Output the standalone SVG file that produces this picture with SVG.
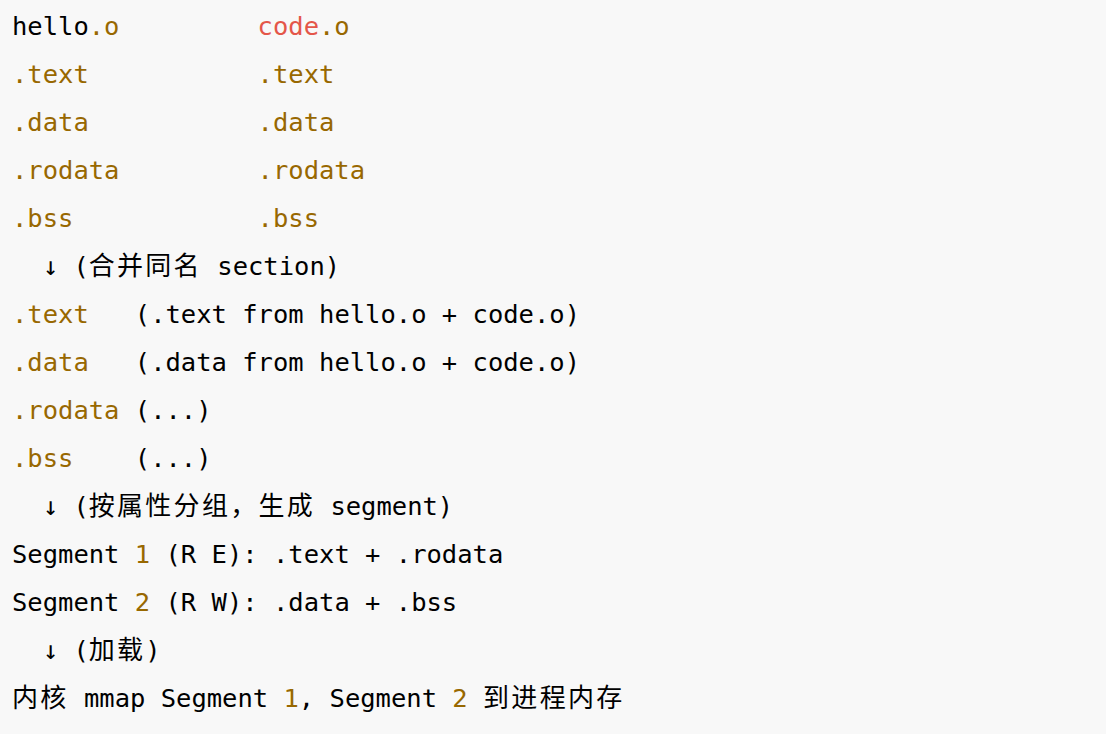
<svg xmlns="http://www.w3.org/2000/svg" width="1106" height="734" viewBox="0 0 1106 734">
<style>
text{font-family:"DejaVu Sans Mono","Liberation Mono",monospace;font-size:25.5px;fill:#000}
.b{fill:#986801}
.r{fill:#e45649}
.c{font-family:"Noto Sans CJK SC","DejaVu Sans",sans-serif;font-size:26px;letter-spacing:2.3px}
</style>
<rect width="1106" height="734" fill="#f8f8f8"/>
<g id="line1"><text x="12" y="35">hello</text><text class="b" x="88.75" y="35">.o</text><text class="r" x="257.6" y="35">code</text><text class="b" x="319" y="35">.o</text></g>
<g id="line2"><text class="b" x="12" y="83">.text</text><text class="b" x="257.6" y="83">.text</text></g>
<g id="line3"><text class="b" x="12" y="131">.data</text><text class="b" x="257.6" y="131">.data</text></g>
<g id="line4"><text class="b" x="12" y="179">.rodata</text><text class="b" x="257.6" y="179">.rodata</text></g>
<g id="line5"><text class="b" x="12" y="227">.bss</text><text class="b" x="257.6" y="227">.bss</text></g>
<g id="line6"><text x="42.7" y="275">↓</text><text x="73.4" y="275">(</text><text class="c" x="88.7" y="275">合并同名</text><text x="217.3" y="275">section)</text></g>
<g id="line7"><text class="b" x="12" y="323">.text</text><text x="134.8" y="323">(.text from hello.o + code.o)</text></g>
<g id="line8"><text class="b" x="12" y="371">.data</text><text x="134.8" y="371">(.data from hello.o + code.o)</text></g>
<g id="line9"><text class="b" x="12" y="419">.rodata</text><text x="134.8" y="419">(...)</text></g>
<g id="line10"><text class="b" x="12" y="467">.bss</text><text x="134.8" y="467">(...)</text></g>
<g id="line11"><text x="42.7" y="515">↓</text><text x="73.4" y="515">(</text><text class="c" x="88.7" y="515">按属性分组，生成</text><text x="330.4" y="515">segment)</text></g>
<g id="line12"><text x="12" y="563">Segment</text><text class="b" x="134.8" y="563">1</text><text x="165.5" y="563">(R E): .text + .rodata</text></g>
<g id="line13"><text x="12" y="611">Segment</text><text class="b" x="134.8" y="611">2</text><text x="165.5" y="611">(R W): .data + .bss</text></g>
<g id="line14"><text x="42.7" y="659">↓</text><text x="73.4" y="659">(</text><text class="c" x="88.7" y="659">加载</text><text x="145.3" y="659">)</text></g>
<g id="line15"><text class="c" x="12" y="707">内核</text><text x="83.95" y="707">mmap Segment</text><text class="b" x="283.5" y="707">1</text><text x="298.85" y="707">,</text><text x="329.55" y="707">Segment</text><text class="b" x="452.35" y="707">2</text><text class="c" x="483.05" y="707">到进程内存</text></g>
</svg>
